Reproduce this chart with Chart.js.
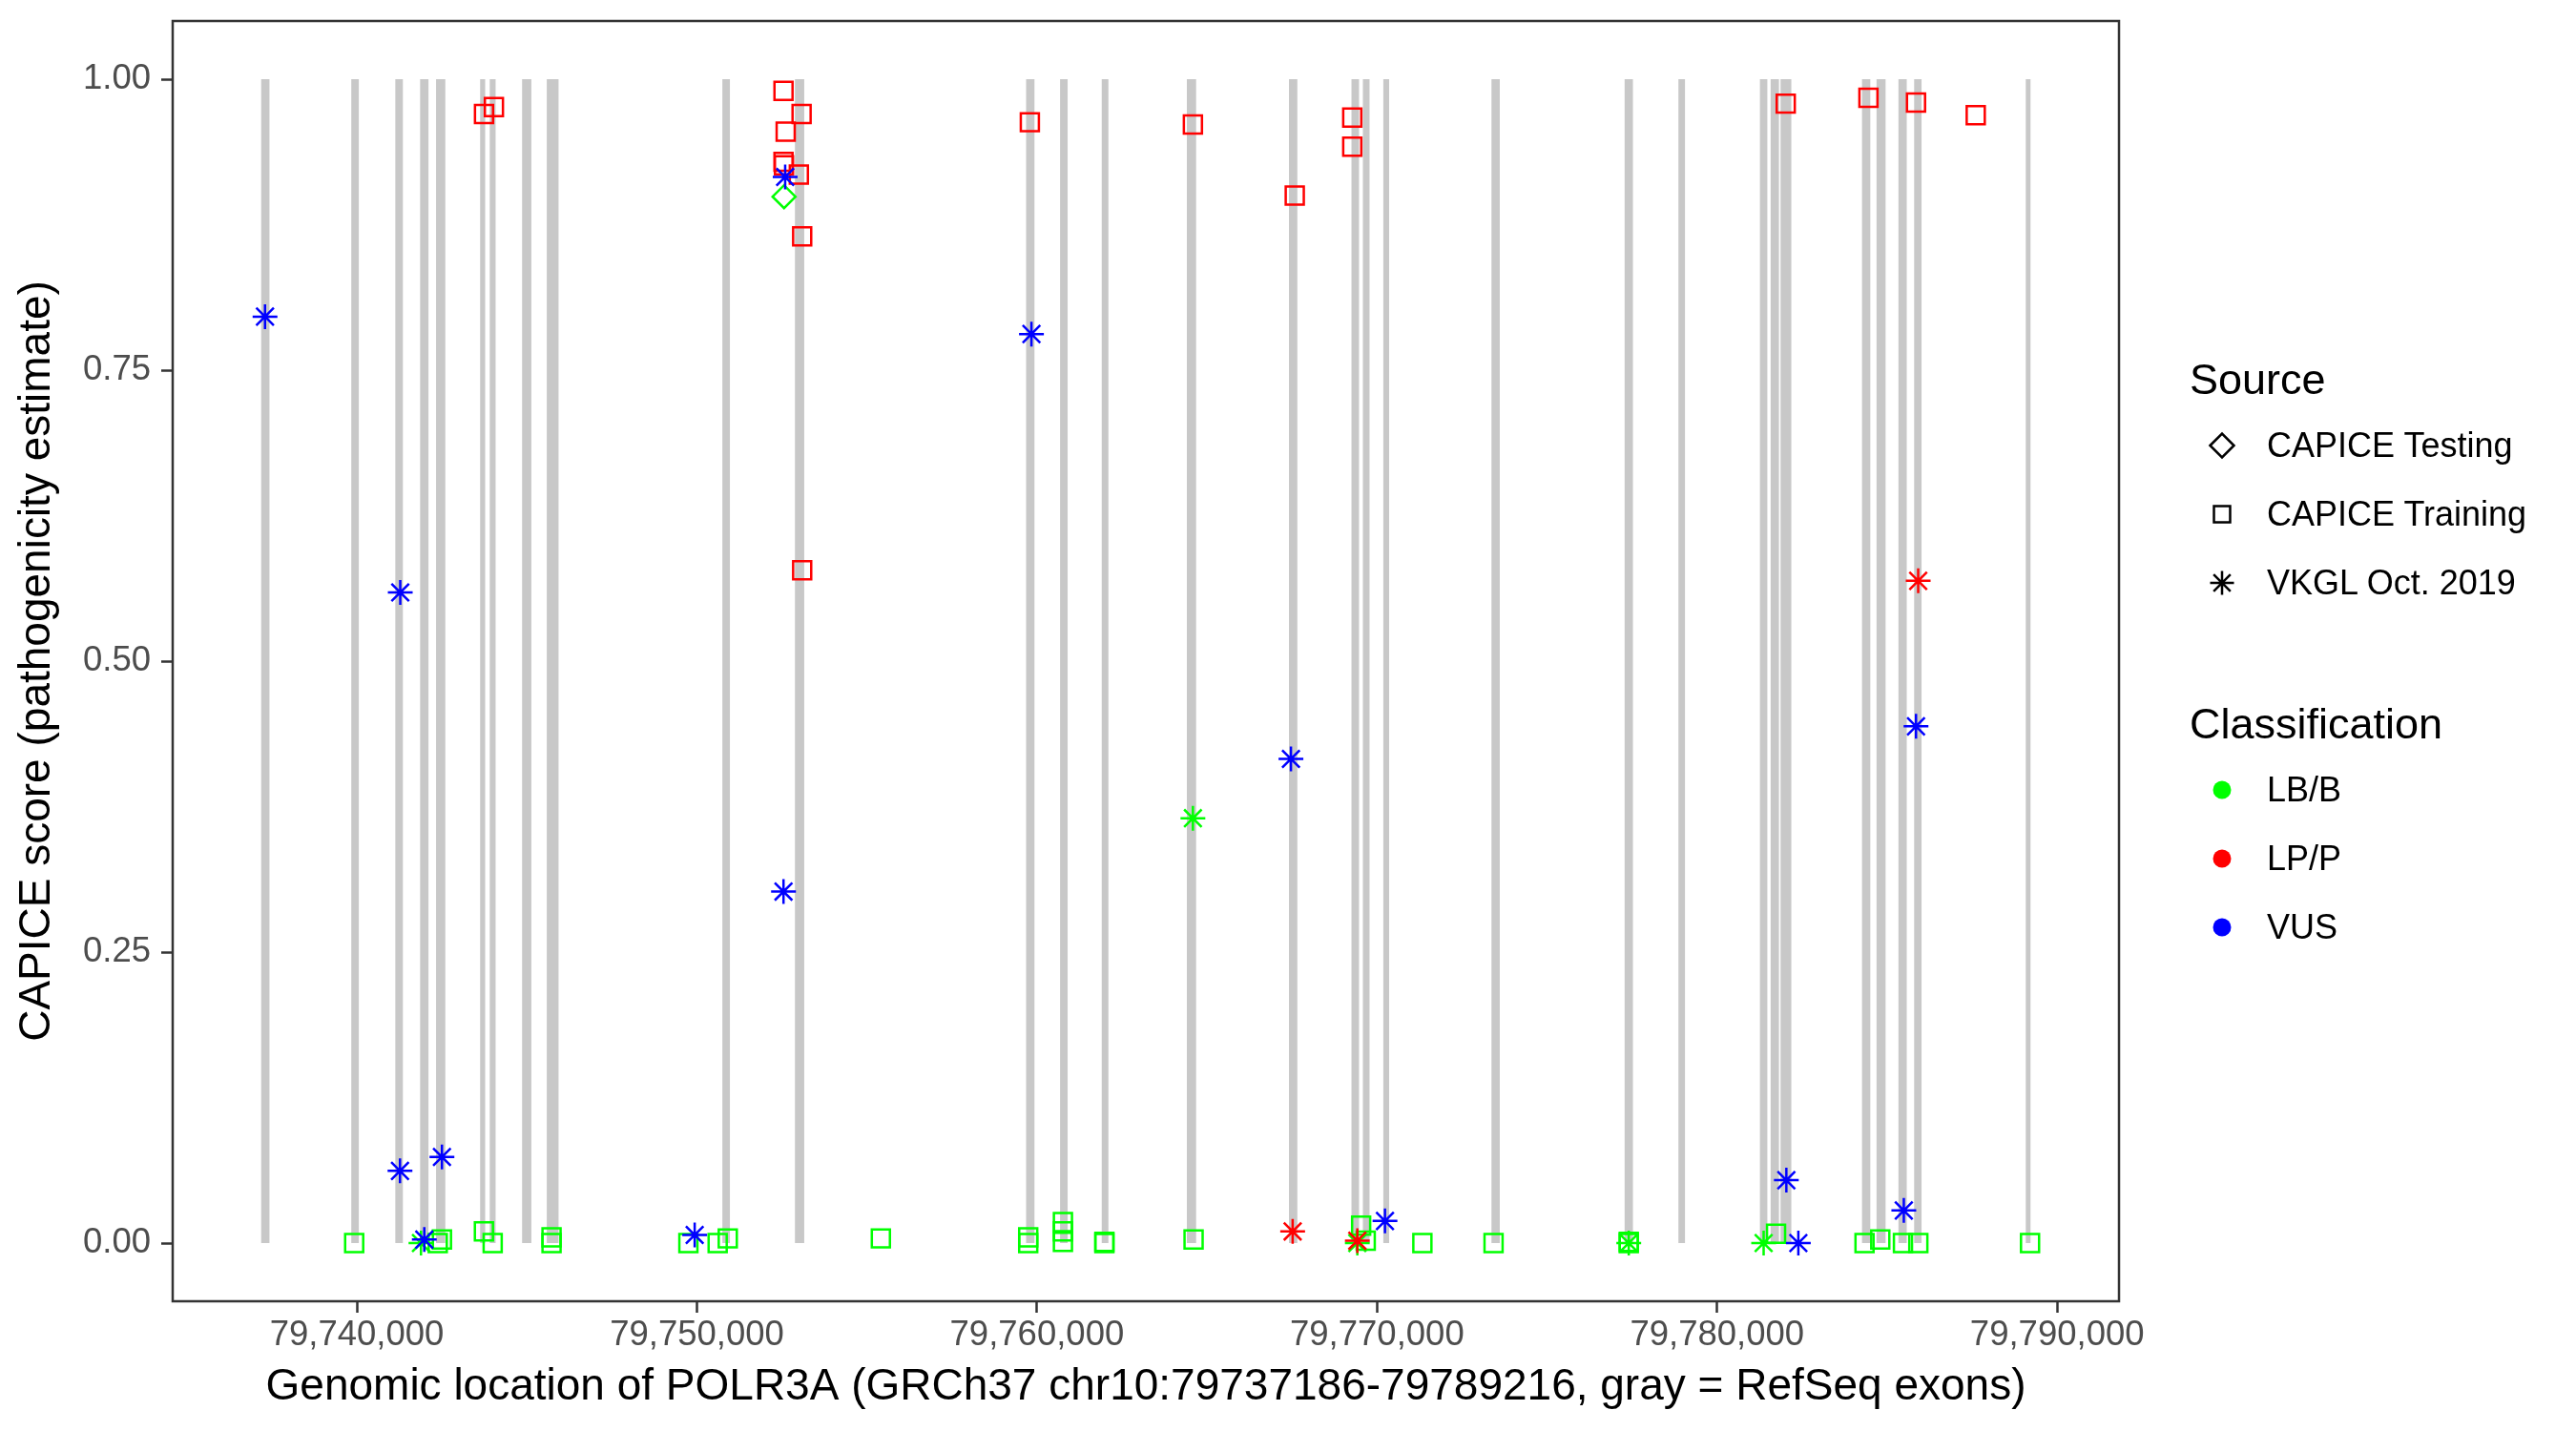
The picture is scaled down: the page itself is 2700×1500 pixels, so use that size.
<!DOCTYPE html>
<html>
<head>
<meta charset="utf-8">
<title>POLR3A CAPICE scores</title>
<script src="https://cdn.jsdelivr.net/npm/chart.js@4.4.1/dist/chart.umd.min.js"></script>
<style>
  body { margin: 0; background: #ffffff; }
  #wrap { position: relative; width: 2700px; height: 1500px; font-family: "Liberation Sans", Arial, sans-serif; }
  #chart { position: absolute; left: 0; top: 0; }
  .leg { position: absolute; white-space: nowrap; color: #000000; }
  .leg-title { font-size: 45px; line-height: 45px; }
  .leg-text { font-size: 36px; line-height: 36px; }
  .leg-mark { position: absolute; }
</style>
</head>
<body>
<div id="wrap">
  <canvas id="chart" width="2700" height="1500"></canvas>
</div>
<script>
// RefSeq exons of POLR3A (gray bars)
const exonStart = [79737186, 79739836, 79741131, 79741860, 79742329, 79743625, 79743908, 79744859, 79745585, 79750748,
                   79752883, 79759680, 79760679, 79761904, 79764407, 79767410, 79769248, 79769583, 79770184, 79773365,
                   79777280, 79778862, 79781259, 79781574, 79781866, 79784261, 79784688, 79785332, 79785794, 79789077];
const exonEnd = [79737430, 79740058, 79741353, 79742106, 79742601, 79743773, 79744080, 79745131, 79745931, 79750970,
                 79753155, 79759926, 79760901, 79762100, 79764679, 79767656, 79769470, 79769779, 79770356, 79773609,
                 79777524, 79779056, 79781477, 79781818, 79782182, 79784505, 79784954, 79785576, 79786012, 79789216];

const xTicks = [79740000, 79750000, 79760000, 79770000, 79780000, 79790000];
const yTicks = [0, 0.25, 0.5, 0.75, 1];

// CAPICE Training, LP/P
const trainLPx = [79743739, 79744030, 79752546, 79752610, 79753078, 79752546, 79752560, 79752997, 79753095, 79753095,
                  79759790, 79764585, 79767580, 79769271, 79769271, 79782018, 79784450, 79785849, 79787605];
const trainLPy = [0.970, 0.976, 0.990, 0.955, 0.970, 0.929, 0.926, 0.918, 0.865, 0.578,
                  0.963, 0.961, 0.900, 0.967, 0.942, 0.979, 0.984, 0.980, 0.969];

// CAPICE Training, LB/B
const trainLBx = [79739921, 79742378, 79742502, 79743736, 79743994, 79745725, 79745725, 79749749, 79750610, 79750907,
                  79755409, 79759742, 79759742, 79760763, 79760763, 79760763, 79761982, 79761982, 79764605, 79769532,
                  79769667, 79771333, 79773426, 79777402, 79777402, 79781733, 79784335, 79784798, 79785465, 79785917,
                  79789202];
const trainLBy = [0.000, 0.000, 0.003, 0.010, 0.000, 0.005, 0.000, 0.000, 0.000, 0.004,
                  0.004, 0.005, 0.000, 0.018, 0.010, 0.001, 0.000, 0.001, 0.003, 0.015,
                  0.002, 0.000, 0.000, 0.000, 0.001, 0.008, 0.000, 0.003, 0.000, 0.000,
                  0.000];

// CAPICE Testing, LB/B
const testLBx = [79752562];
const testLBy = [0.899];

// VKGL Oct. 2019
const vkglVUSx = [79737299, 79741276, 79741268, 79742502, 79741983, 79749934, 79752595, 79752546, 79759837, 79767468,
                  79770233, 79782036, 79782389, 79785490, 79785849];
const vkglVUSy = [0.796, 0.559, 0.062, 0.074, 0.003, 0.007, 0.916, 0.302, 0.781, 0.416,
                  0.019, 0.054, 0.000, 0.028, 0.444];
const vkglLPx = [79767518, 79769420, 79785913];
const vkglLPy = [0.010, 0.002, 0.569];
const vkglLBx = [79741885, 79764585, 79769420, 79777402, 79781368];
const vkglLBy = [0.000, 0.365, 0.000, 0.000, 0.000];

const sourceLabels = ["CAPICE Testing", "CAPICE Training", "VKGL Oct. 2019"];
const sourceShapes = ["rectRot", "rect", "star"];
const classLabels = ["LB/B", "LP/P", "VUS"];
const classColors = ["#00ff00", "#ff0000", "#0000ff"];

const FONT = "'Liberation Sans', Arial, sans-serif";
const shapeRadius = { rectRot: 12, rect: 13.4, star: 13 };

function pts(xs, ys) {
    return xs.map((x, i) => ({ x: x, y: ys[i] }));
}

function series(label, xs, ys, shape, color, order) {
    return {
        label: label,
        data: pts(xs, ys),
        pointStyle: shape,
        pointRadius: shapeRadius[shape],
        pointHoverRadius: shapeRadius[shape],
        pointBorderWidth: 2.5,
        pointBorderColor: color,
        borderColor: color,
        pointBackgroundColor: "rgba(0,0,0,0)",
        backgroundColor: "rgba(0,0,0,0)",
        showLine: false,
        order: order
    };
}

const exonPlugin = {
    id: "exons",
    beforeDatasetsDraw(chart) {
        const { ctx, scales } = chart;
        const yTop = scales.y.getPixelForValue(1);
        const yBot = scales.y.getPixelForValue(0);
        ctx.save();
        ctx.fillStyle = "#c8c8c8";
        exonStart.forEach((s, i) => {
            const x0 = scales.x.getPixelForValue(s);
            const x1 = scales.x.getPixelForValue(exonEnd[i]);
            ctx.fillRect(x0, yTop, Math.max(x1 - x0, 1), yBot - yTop);
        });
        ctx.restore();
    }
};

const boxPlugin = {
    id: "box",
    afterDraw(chart) {
        const a = chart.chartArea;
        const ctx = chart.ctx;
        ctx.save();
        ctx.strokeStyle = "#333333";
        ctx.lineWidth = 2.5;
        ctx.strokeRect(a.left, a.top, a.right - a.left, a.bottom - a.top);
        ctx.restore();
    }
};

new Chart(document.getElementById("chart").getContext("2d"), {
    type: "scatter",
    data: {
        datasets: [
            series("VKGL Oct. 2019 VUS", vkglVUSx, vkglVUSy, "star", classColors[2], 0),
            series("VKGL Oct. 2019 LP/P", vkglLPx, vkglLPy, "star", classColors[1], 1),
            series("VKGL Oct. 2019 LB/B", vkglLBx, vkglLBy, "star", classColors[0], 2),
            series("CAPICE Testing LB/B", testLBx, testLBy, "rectRot", classColors[0], 3),
            series("CAPICE Training LP/P", trainLPx, trainLPy, "rect", classColors[1], 4),
            series("CAPICE Training LB/B", trainLBx, trainLBy, "rect", classColors[0], 5)
        ]
    },
    options: {
        responsive: false,
        devicePixelRatio: 1,
        animation: false,
        layout: { padding: { left: 0, top: 22, right: 479, bottom: 0 } },
        plugins: {
            legend: { display: false },
            tooltip: { enabled: false }
        },
        scales: {
            x: {
                type: "linear",
                min: 79734584,
                max: 79791818,
                afterBuildTicks: scale => { scale.ticks = xTicks.map(v => ({ value: v })); },
                afterFit: scale => {
                    scale.height = 136;
                    scale.paddingLeft = 0;
                    scale.paddingRight = 0;
                },
                border: { display: false },
                grid: { drawOnChartArea: false, drawTicks: true, tickLength: 12, tickWidth: 2.5, tickColor: "#333333" },
                ticks: {
                    padding: 2,
                    color: "#4d4d4d",
                    font: { family: FONT, size: 36.5 },
                    maxRotation: 0,
                    autoSkip: false,
                    callback: v => v.toLocaleString("en-US")
                },
                title: {
                    display: true,
                    text: "Genomic location of POLR3A (GRCh37 chr10:79737186-79789216, gray = RefSeq exons)",
                    color: "#000000",
                    font: { family: FONT, size: 46, lineHeight: 1.2 },
                    padding: { top: 0, bottom: 18 }
                }
            },
            y: {
                type: "linear",
                min: -0.05,
                max: 1.05,
                afterBuildTicks: scale => { scale.ticks = yTicks.map(v => ({ value: v })); },
                afterFit: scale => {
                    scale.width = 181;
                    scale.paddingTop = 0;
                    scale.paddingBottom = 0;
                },
                border: { display: false },
                grid: { drawOnChartArea: false, drawTicks: true, tickLength: 12, tickWidth: 2.5, tickColor: "#333333" },
                ticks: {
                    padding: 11,
                    color: "#4d4d4d",
                    font: { family: FONT, size: 36.5 },
                    autoSkip: false,
                    callback: v => Number(v).toFixed(2)
                },
                title: {
                    display: true,
                    text: "CAPICE score (pathogenicity estimate)",
                    color: "#000000",
                    font: { family: FONT, size: 46, lineHeight: 1.2 },
                    padding: { top: 12, bottom: 0 }
                }
            }
        }
    },
    plugins: [exonPlugin, boxPlugin]
});

// legend (two groups, drawn beside the panel)
const wrap = document.getElementById("wrap");

function addText(text, cls, left, centerY, size) {
    const d = document.createElement("div");
    d.className = "leg " + cls;
    d.textContent = text;
    d.style.left = left + "px";
    d.style.top = (centerY - size / 2) + "px";
    wrap.appendChild(d);
}

function addMarker(shape, color, radius, fill, cx, cy) {
    const c = document.createElement("canvas");
    c.width = 40;
    c.height = 40;
    c.className = "leg-mark";
    c.style.left = (cx - 20) + "px";
    c.style.top = (cy - 20) + "px";
    wrap.appendChild(c);
    const ctx = c.getContext("2d");
    ctx.strokeStyle = color;
    ctx.fillStyle = fill ? color : "rgba(0,0,0,0)";
    ctx.lineWidth = fill ? 0 : 2.5;
    Chart.helpers.drawPoint(ctx, { pointStyle: shape, radius: radius, rotation: 0, borderWidth: fill ? 0 : 2.5 }, 20, 20);
}

addText("Source", "leg-title", 2295, 397, 45);
sourceLabels.forEach((label, i) => {
    const cy = 467 + i * 72;
    addMarker(sourceShapes[i], "#000000", sourceShapes[i] === "rect" ? 12 : 12.5, false, 2329, cy);
    addText(label, "leg-text", 2376, cy, 36);
});

addText("Classification", "leg-title", 2295, 758, 45);
classLabels.forEach((label, i) => {
    const cy = 828 + i * 72;
    addMarker("circle", classColors[i], 9.5, true, 2329, cy);
    addText(label, "leg-text", 2376, cy, 36);
});
</script>
</body>
</html>
